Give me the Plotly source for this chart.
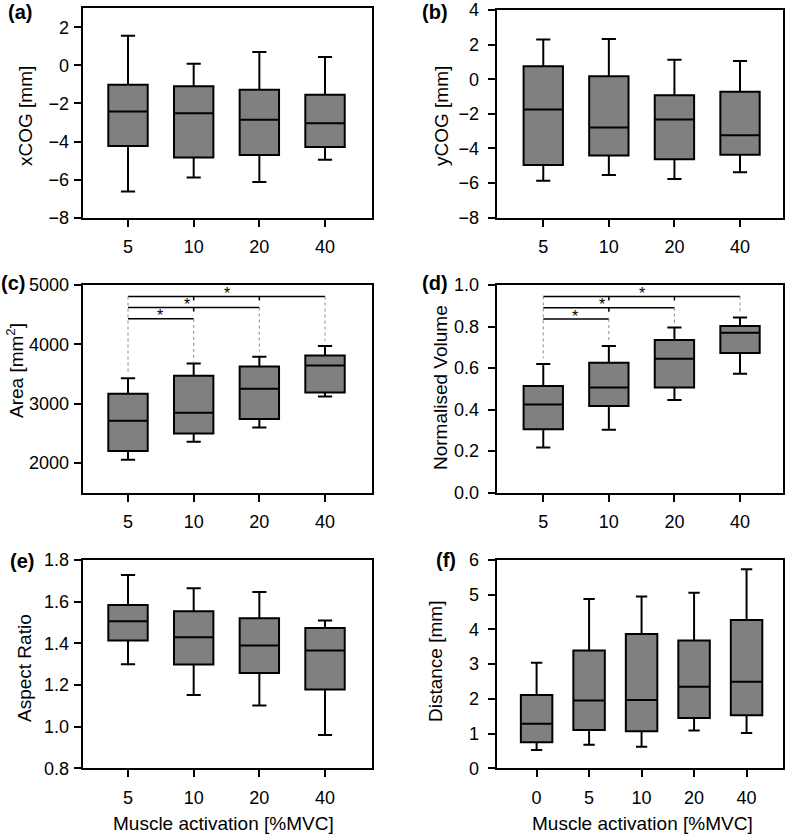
import plotly.graph_objects as go

# ---------------- data ----------------
cats4 = ["5", "10", "20", "40"]
cats5 = ["0", "5", "10", "20", "40"]

# (a) xCOG [mm]
a_low = [-6.63, -5.89, -6.12, -4.96]
a_q1 = [-4.23, -4.84, -4.70, -4.28]
a_med = [-2.42, -2.51, -2.86, -3.04]
a_q3 = [-1.02, -1.10, -1.28, -1.54]
a_high = [1.56, 0.09, 0.70, 0.44]

# (b) yCOG [mm]
b_low = [-5.87, -5.54, -5.77, -5.37]
b_q1 = [-4.96, -4.40, -4.62, -4.37]
b_med = [-1.75, -2.79, -2.33, -3.23]
b_q3 = [0.75, 0.17, -0.92, -0.73]
b_high = [2.29, 2.33, 1.13, 1.06]

# (c) Area [mm^2]
c_low = [2056, 2358, 2600, 3121]
c_q1 = [2201, 2499, 2740, 3188]
c_med = [2712, 2846, 3250, 3643]
c_q3 = [3166, 3469, 3626, 3811]
c_high = [3430, 3676, 3789, 3974]

# (d) Normalised Volume
d_low = [0.218, 0.303, 0.446, 0.573]
d_q1 = [0.305, 0.417, 0.507, 0.673]
d_med = [0.425, 0.507, 0.645, 0.770]
d_q3 = [0.514, 0.626, 0.735, 0.803]
d_high = [0.620, 0.706, 0.795, 0.843]

# (e) Aspect Ratio
e_low = [1.299, 1.152, 1.102, 0.960]
e_q1 = [1.413, 1.298, 1.258, 1.178]
e_med = [1.506, 1.429, 1.389, 1.366]
e_q3 = [1.584, 1.554, 1.520, 1.474]
e_high = [1.728, 1.664, 1.646, 1.510]

# (f) Distance [mm]
f_low = [0.53, 0.68, 0.62, 1.09, 1.02]
f_q1 = [0.75, 1.10, 1.07, 1.45, 1.53]
f_med = [1.28, 1.95, 1.97, 2.35, 2.49]
f_q3 = [2.11, 3.39, 3.87, 3.68, 4.27]
f_high = [3.04, 4.88, 4.95, 5.06, 5.73]

# significance brackets: (start index, end index), level; intermediate ticks
sig_pairs = [(0, 3), (0, 2), (0, 1)]
sig_star_x = [1.5, 0.9, 0.48]
c_sig_levels = [4805, 4620, 4430]
d_sig_levels = [0.945, 0.891, 0.836]
sig_ticks = [[1, 2], [1], []]
c_drop = [3510, 3710, 3880, 4060]
d_drop = [0.647, 0.727, 0.812, 0.867]

y_titles = ["xCOG [mm]", "yCOG [mm]", "Area [mm<sup>2</sup>]",
            "Normalised Volume", "Aspect Ratio", "Distance [mm]"]
panel_labels = ["(a)", "(b)", "(c)", "(d)", "(e)", "(f)"]
x_title = "Muscle activation [%MVC]"

# ---------------- layout geometry ----------------
W, H = 789, 837
FONT = "Liberation Sans, Arial, sans-serif"
GRAY = "rgb(128,128,128)"

def px_x(p):
    return p / W

def px_y(p):
    return 1 - p / H

# (left, right, top, bottom) in pixels
boxes = [
    (82.7, 372.3, 8.3, 217.7),
    (496.7, 783.3, 10.0, 217.7),
    (82.7, 372.3, 285.0, 492.7),
    (496.7, 783.3, 285.0, 492.7),
    (82.7, 372.3, 560.0, 768.3),
    (496.7, 783.3, 560.0, 768.3),
]
xranges = [[-0.69, 3.72], [-0.71, 3.66], [-0.69, 3.72],
           [-0.71, 3.66], [-0.69, 3.72], [-0.76, 4.70]]
yranges = [[-8, 3], [-8, 4], [1500, 5000], [0, 1], [0.8, 1.8], [0, 6]]
ytickvals = [
    [-8, -6, -4, -2, 0, 2],
    [-8, -6, -4, -2, 0, 2, 4],
    [2000, 3000, 4000, 5000],
    [0, 0.2, 0.4, 0.6, 0.8, 1.0],
    [0.8, 1.0, 1.2, 1.4, 1.6, 1.8],
    [0, 1, 2, 3, 4, 5, 6],
]
ytickfmt = [None, None, None, ".1f", ".1f", None]
ystandoff = [1, 5, 1, 5, 1, 5]

stats = [
    (cats4, a_low, a_q1, a_med, a_q3, a_high),
    (cats4, b_low, b_q1, b_med, b_q3, b_high),
    (cats4, c_low, c_q1, c_med, c_q3, c_high),
    (cats4, d_low, d_q1, d_med, d_q3, d_high),
    (cats4, e_low, e_q1, e_med, e_q3, e_high),
    (cats5, f_low, f_q1, f_med, f_q3, f_high),
]

fig = go.Figure()
layout = dict(
    template="none",
    width=W, height=H,
    margin=dict(l=0, r=0, t=0, b=0, pad=0, autoexpand=False),
    paper_bgcolor="white", plot_bgcolor="white",
    showlegend=False,
    font=dict(family=FONT, size=18, color="black"),
)

for i, (cats, lo, q1, med, q3, hi) in enumerate(stats):
    n = "" if i == 0 else str(i + 1)
    fig.add_trace(go.Box(
        x=cats, q1=q1, median=med, q3=q3, lowerfence=lo, upperfence=hi,
        xaxis="x" + n, yaxis="y" + n,
        fillcolor=GRAY, line=dict(color="black", width=2),
        width=0.6, whiskerwidth=0.36, boxpoints=False,
        hoverinfo="skip",
    ))
    l, r, t, b = boxes[i]
    layout["xaxis" + n] = dict(
        domain=[px_x(l), px_x(r)], anchor="y" + n, automargin=False,
        type="category", categoryorder="array", categoryarray=cats,
        range=xranges[i], showline=True, linewidth=2, linecolor="black",
        mirror=True, ticks="outside", ticklen=7, tickwidth=2,
        tickcolor="black", showgrid=False, zeroline=False,
        tickfont=dict(size=18, family=FONT), ticklabelstandoff=5,
        fixedrange=True,
    )
    ya = dict(
        domain=[px_y(b), px_y(t)], anchor="x" + n, automargin=False,
        range=yranges[i], tickvals=ytickvals[i],
        showline=True, linewidth=2, linecolor="black", mirror=True,
        ticks="outside", ticklen=7, tickwidth=2, tickcolor="black",
        showgrid=False, zeroline=False,
        tickfont=dict(size=18, family=FONT), ticklabelstandoff=ystandoff[i],
        fixedrange=True,
    )
    if ytickfmt[i]:
        ya["tickformat"] = ytickfmt[i]
    layout["yaxis" + n] = ya

fig.update_layout(**layout)

# ---------------- significance brackets ----------------
shapes = []
annotations = []

def add_brackets(n, levels, drops, tick_len):
    xr, yr = "x" + n, "y" + n
    for (s, e), lev, tks, sx in zip(sig_pairs, levels, sig_ticks, sig_star_x):
        shapes.append(dict(type="line", xref=xr, yref=yr, x0=s, x1=e,
                           y0=lev, y1=lev, line=dict(color="black", width=1.5)))
        for tk in tks:
            shapes.append(dict(type="line", xref=xr, yref=yr, x0=tk, x1=tk,
                               y0=lev, y1=lev - tick_len,
                               line=dict(color="black", width=1.5)))
        shapes.append(dict(type="line", xref=xr, yref=yr, x0=e, x1=e,
                           y0=lev, y1=drops[e],
                           line=dict(color="rgb(140,140,140)", width=1, dash="dot")))
        annotations.append(dict(x=sx, y=lev, xref=xr, yref=yr,
                                text="*", showarrow=False, yanchor="middle",
                                yshift=3, font=dict(size=16, family=FONT)))
    s0 = sig_pairs[0][0]
    shapes.append(dict(type="line", xref=xr, yref=yr, x0=s0, x1=s0,
                       y0=max(levels), y1=drops[s0],
                       line=dict(color="rgb(140,140,140)", width=1, dash="dot")))

add_brackets("3", c_sig_levels, c_drop, 65)
add_brackets("4", d_sig_levels, d_drop, 0.02)

# ---------------- titles & panel labels ----------------
ytitle_pos = [(25, 116), (441, 116), (15, 371), (440, 387), (24, 668), (435, 662)]
for txt, (xp, yp) in zip(y_titles, ytitle_pos):
    annotations.append(dict(x=px_x(xp), y=px_y(yp), xref="paper", yref="paper",
                            text=txt, textangle=-90, showarrow=False,
                            xanchor="center", yanchor="middle",
                            font=dict(size=19, family=FONT)))

label_pos = [(20, 12), (435, 12), (13, 283), (435, 283), (22, 561), (446, 560)]
for txt, (xp, yp) in zip(panel_labels, label_pos):
    annotations.append(dict(x=px_x(xp), y=px_y(yp), xref="paper", yref="paper",
                            text="<b>" + txt + "</b>", showarrow=False,
                            xanchor="center", yanchor="middle",
                            font=dict(size=20, family=FONT)))

for xp in (223, 642):
    annotations.append(dict(x=px_x(xp), y=px_y(823), xref="paper", yref="paper",
                            text=x_title, showarrow=False,
                            xanchor="center", yanchor="middle",
                            font=dict(size=19, family=FONT)))

fig.update_layout(shapes=shapes, annotations=annotations)
fig.write_html("out.html", config={"displayModeBar": False},
               post_script="document.body.style.margin='0';")
